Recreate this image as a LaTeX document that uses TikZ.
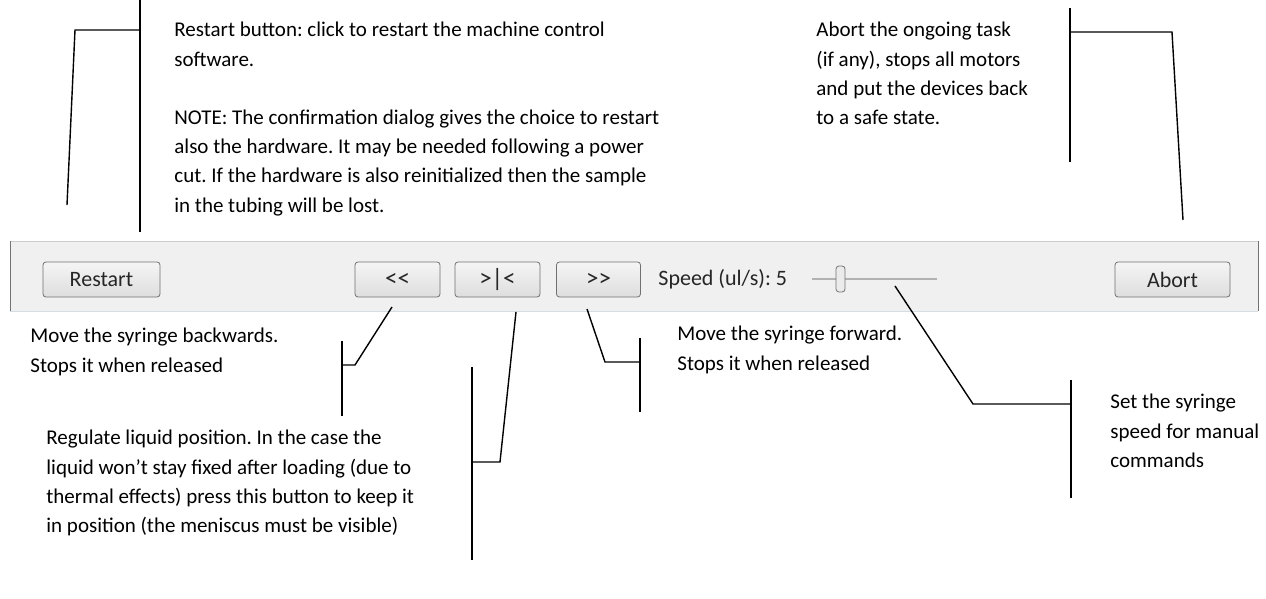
\documentclass[tikz,border=0pt]{standalone}
\usepackage{fontspec}
\setmainfont{Carlito}
\usetikzlibrary{positioning}

\definecolor{barfill}{HTML}{F0F0F0}
\definecolor{barline}{HTML}{D5DCE2}
\definecolor{btnline}{HTML}{707070}

\tikzset{
  note/.style={anchor=north west, align=left, inner sep=0pt, font=\fontsize{10.5}{14.6}\selectfont},
  btn/.style={draw=btnline, rounded corners=1.5pt, top color=white!96!black, bottom color=black!13,
    minimum height=17.5pt, inner sep=0pt, font=\fontsize{11}{12}\selectfont, text=black!85},
  jogbtn/.style={btn, font=\fontsize{12.5}{13}\selectfont},
  bar/.style={line width=0.85pt},
  lead/.style={line width=0.7pt},
}

\begin{document}
\frenchspacing
\begin{tikzpicture}[x=0.5pt,y=-0.5pt]
\useasboundingbox (0,0) rectangle (1266,599);

% toolbar
\fill[barfill] (10,241) rectangle (1258,311);
\draw[black!20] (10,241) -- (1258,241);
\draw[barline] (10,311) -- (1258,311);
\draw[black!55] (10,241) -- (10,311);
\draw[black!55] (1258,241) -- (1258,311);

\node[btn, minimum width=58.5pt] (restart) at (101.5,279.5) {Restart};
\node[jogbtn, minimum width=42.5pt] (back) at (397.5,279.5) {{<}{<}};
\node[jogbtn, minimum width=42.5pt] (hold) at (497.5,279.5) {{>}|{<}};
\node[jogbtn, minimum width=42pt] (fwd) at (598.5,279.5) {{>}{>}};
\node[anchor=west, inner sep=0pt, font=\fontsize{11}{12}\selectfont, text=black!85] (speed) at (658,279) {Speed (ul/s): 5};
\node[btn, minimum width=57.5pt] (abort) at (1172.5,279.5) {Abort};

% slider
\draw[black!30, line width=0.8pt] (812,279) -- (937,279);
\node[draw=black!55, fill=white!92!black, rounded corners=1.5pt, minimum width=4.5pt, minimum height=13pt, inner sep=0pt] (thumb) at (840.5,279) {};

% notes
\node[note] (restartnote) at (174,22) {Restart button: click to restart the machine control\\ software.\\[14.6pt]
  NOTE: The confirmation dialog gives the choice to restart\\ also the hardware. It may be needed following a power\\
  cut. If the hardware is also reinitialized then the sample\\ in the tubing will be lost.};
\node[note] (abortnote) at (816,22) {Abort the ongoing task\\ (if any), stops all motors\\ and put the devices back\\ to a safe state.};
\node[note] (backnote) at (30,328) {Move the syringe backwards.\\ Stops it when released};
\node[note] (fwdnote) at (677,326) {Move the syringe forward.\\ Stops it when released};
\node[note] (holdnote) at (46,430) {Regulate liquid position. In the case the\\ liquid won’t stay fixed after loading (due to\\
  thermal effects) press this button to keep it\\ in position (the meniscus must be visible)};
\node[note] (speednote) at (1110,394) {Set the syringe\\ speed for manual\\ commands};

% brackets
\coordinate (restarttop) at (140,0);
\coordinate (restartbot) at (140,232);
\coordinate (aborttop) at (1070,8);
\coordinate (abortbot) at (1070,162);
\coordinate (backtop) at (342,341);
\coordinate (backbot) at (342,416);
\coordinate (holdtop) at (472,367);
\coordinate (holdbot) at (472,560);
\coordinate (fwdtop) at (640,338);
\coordinate (fwdbot) at (640,412);
\coordinate (speedtop) at (1071,380);
\coordinate (speedbot) at (1071,498);

\foreach \b in {restart,abort,back,hold,fwd,speed}
  \draw[bar] (\b top) -- (\b bot);

% leaders
\coordinate (restarttip) at (67,205);
\coordinate (restartbend) at (75,30);
\coordinate (aborttip) at (1183,220);
\coordinate (abortbend) at (1172,32);
\coordinate (backtip) at (392,307);
\coordinate (backbend) at (355,365);
\coordinate (holdtip) at (516,312);
\coordinate (holdbend) at (500,462);
\coordinate (fwdtip) at (587,309);
\coordinate (fwdbend) at (605,362);
\coordinate (speedtip) at (895,286);
\coordinate (speedbend) at (973,404);

\draw[lead] (restarttip) -- (restartbend) -- (restartbend -| restarttop);
\draw[lead] (aborttip) -- (abortbend) -- (abortbend -| aborttop);
\draw[lead] (backtip) -- (backbend) -- (backbend -| backtop);
\draw[lead] (holdtip) -- (holdbend) -- (holdbend -| holdtop);
\draw[lead] (fwdtip) -- (fwdbend) -- (fwdbend -| fwdtop);
\draw[lead] (speedtip) -- (speedbend) -- (speedbend -| speedtop);
\end{tikzpicture}
\end{document}
